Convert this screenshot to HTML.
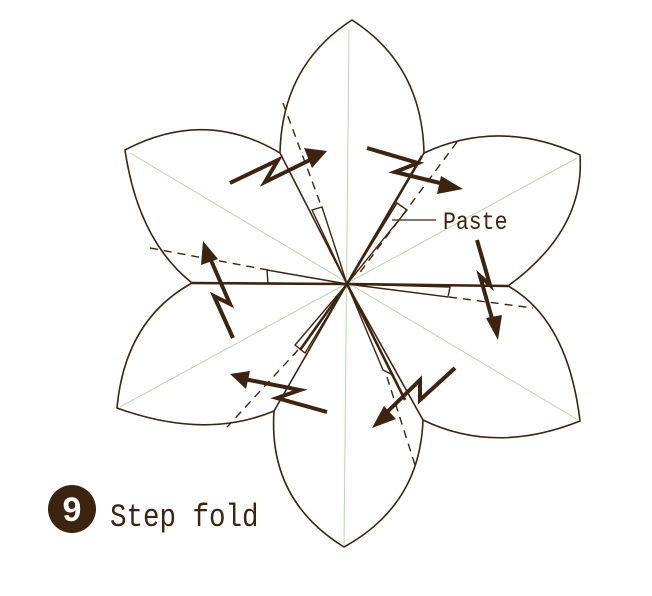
<!DOCTYPE html>
<html><head><meta charset="utf-8"><style>
html,body{margin:0;padding:0;background:#fff;width:652px;height:596px;overflow:hidden}
</style></head><body>
<svg width="652" height="596" viewBox="0 0 652 596" xmlns="http://www.w3.org/2000/svg">
<g stroke="#b8d8b0" stroke-width="1" fill="none">
<line x1="349" y1="30" x2="344" y2="545"/>
<line x1="130" y1="153" x2="578" y2="420"/>
<line x1="577" y1="158" x2="120" y2="407"/>
</g>
<g stroke="#3d2410" stroke-width="1.6" fill="none">
<path d="M347 284 L280 153 Q282 65 352 20 Q422 65 424 153 Z"/>
<path d="M347 284 L192 283 Q138 240 125 150 Q205 108 280 153"/>
<path d="M424 153 Q500 118 580 155 Q585 230 508 286 L347 284"/>
<path d="M192 283 Q125 320 117 408 Q205 440 274 411 L347 284"/>
<path d="M508 286 Q568 320 580 421 Q495 455 423 420 L347 284"/>
<path d="M274 411 Q268 500 344 547 Q420 505 423 420"/>
</g>
<g stroke="#3d2410" stroke-width="1.4" fill="none">
<path d="M312 210 L322 207 L347 284 Z"/>
<path d="M397 203 L407 210 L347 284 Z"/>
<path d="M267 270 L268 283 L347 284 Z"/>
<path d="M450 287 L448 297 L347 284 Z"/>
<path d="M295 345 L305 353 L347 284 Z"/>
<path d="M383 370 L393 375 L347 284 Z"/>
</g>
<g stroke="#3d2410" stroke-width="2.6" fill="none">
<line x1="347" y1="284" x2="422" y2="156"/>
<line x1="347" y1="284" x2="192" y2="283"/>
<line x1="347" y1="284" x2="508" y2="286"/>
<line x1="347" y1="284" x2="300" y2="350"/>
<line x1="347" y1="284" x2="405" y2="400"/>
</g>
<g stroke="#3d2410" stroke-width="1.4" stroke-dasharray="8,6" fill="none">
<line x1="283" y1="103" x2="322" y2="208"/>
<line x1="457" y1="142" x2="358" y2="275"/>
<line x1="150" y1="248" x2="268" y2="270"/>
<line x1="449" y1="297" x2="533" y2="308"/>
<line x1="298" y1="350" x2="227" y2="427"/>
<line x1="387" y1="377" x2="415" y2="465"/>
</g>
<g stroke="#3d2410" stroke-width="4" fill="none" stroke-linejoin="miter">
<polyline points="230,183 278,160 265,182 314,158"/>
<polyline points="367,148 418,163 395,172 448,185"/>
<polyline points="477,240 490,285 480,276 493,322"/>
<polyline points="233,338 214,296 230,304 210,258"/>
<polyline points="327,412 277,398 300,390 244,379"/>
<polyline points="455,368 420,400 420,380 384,415"/>
</g>
<g fill="#3d2410">
<polygon points="327,151 304,148 312,168"/>
<polygon points="463,189 441,176 437,194"/>
<polygon points="498,340 486,318 502,315"/>
<polygon points="203,241 201,265 218,259"/>
<polygon points="230,374 250,371 246,389"/>
<polygon points="372,428 384,406 396,419"/>
</g>
<line x1="392" y1="220" x2="436" y2="220" stroke="#3d2410" stroke-width="1.2"/>
<text transform="translate(443,229) scale(0.86,1)" x="0" y="0" font-family="Liberation Mono, monospace" font-size="25" fill="#3d2410">Paste</text>
<circle cx="72" cy="509" r="24" fill="#3d2410"/>
<text x="72" y="521" text-anchor="middle" font-family="Liberation Sans, sans-serif" font-weight="bold" font-size="34" fill="#fff">9</text>
<text transform="translate(110,526) scale(0.86,1)" x="0" y="0" font-family="Liberation Mono, monospace" font-size="32" fill="#3d2410">Step fold</text>
</svg>
</body></html>
